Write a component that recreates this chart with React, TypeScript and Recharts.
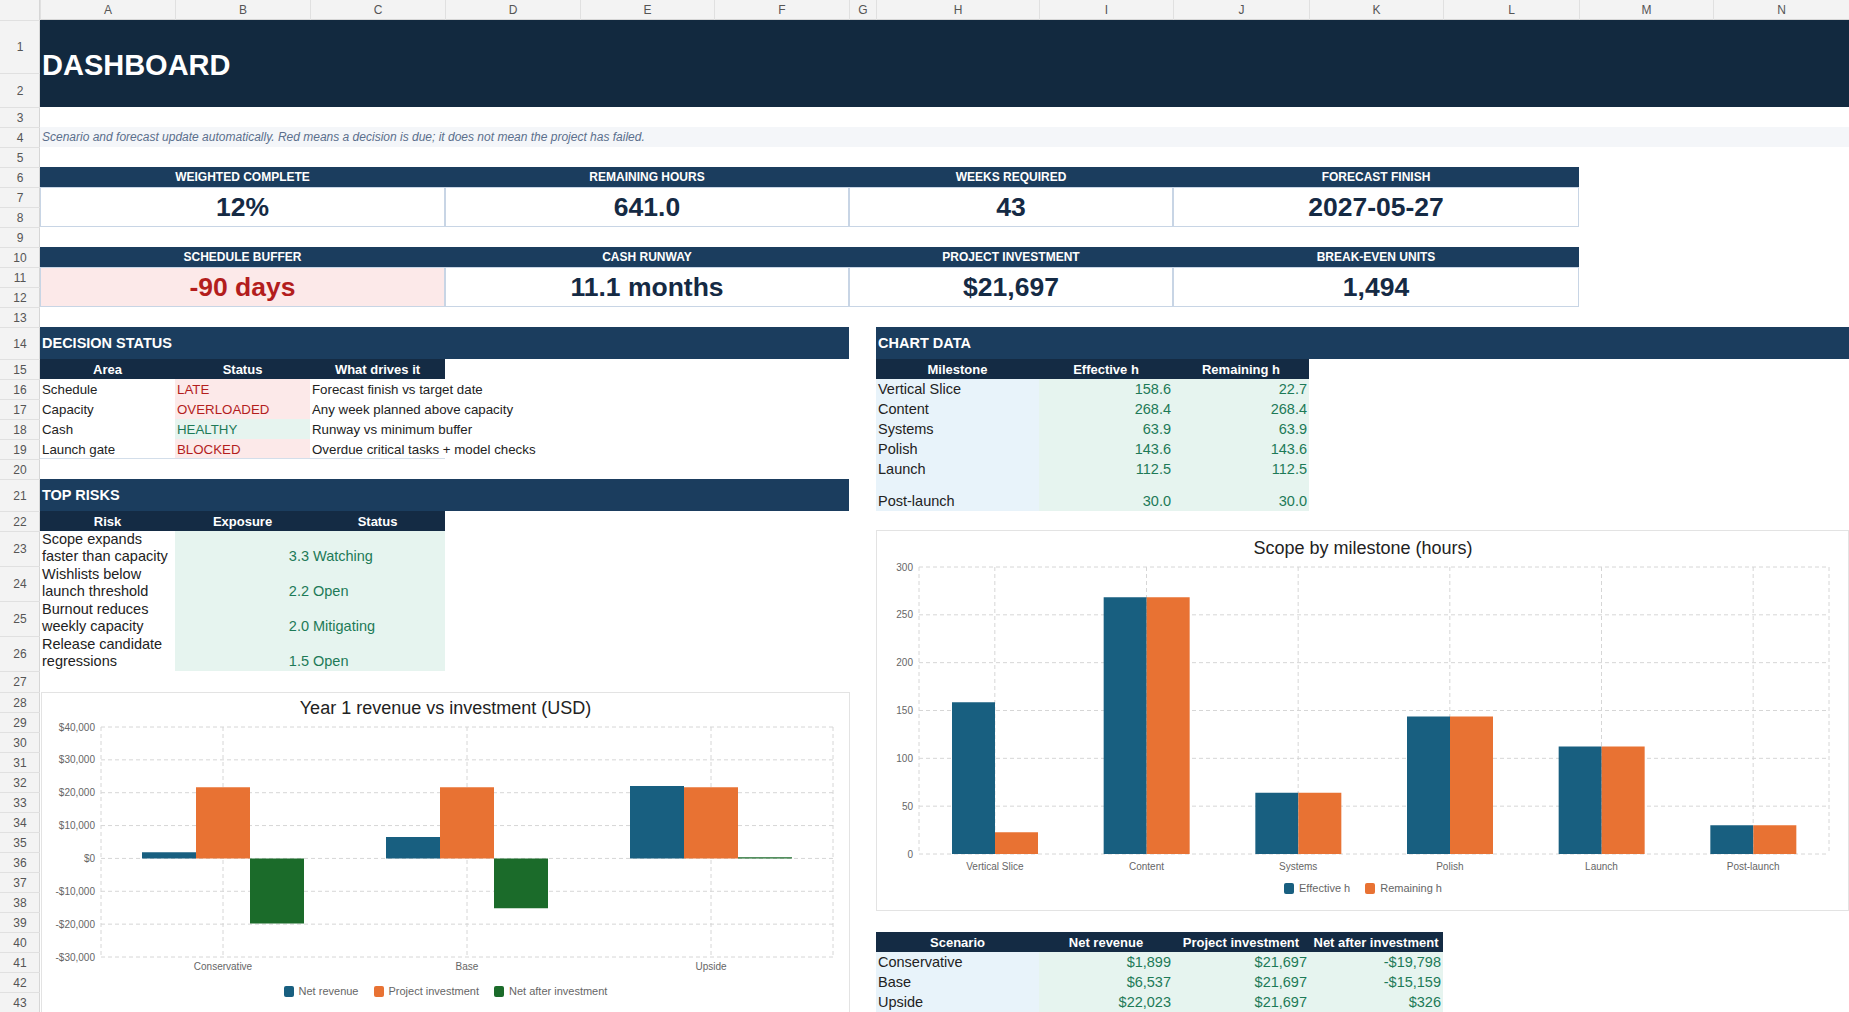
import React from "react";
import { Bar, BarChart, CartesianGrid, Legend, XAxis, YAxis } from "recharts";

const FONT = '"Liberation Sans", Arial, Helvetica, sans-serif';

// sheet geometry
const colLetters = ["A", "B", "C", "D", "E", "F", "G", "H", "I", "J", "K", "L", "M", "N"];
const colEdges = [40, 175, 310, 445, 580, 714, 849, 876, 1039, 1173, 1309, 1443, 1579, 1713, 1849];
const rowHeights = [53, 34, 20, 20, 20, 20, 20, 20, 20, 20, 20, 20, 20, 32, 20, 20, 20, 20, 20, 20, 32, 20, 35, 35, 35, 35, 21,
  20, 20, 20, 20, 20, 20, 20, 20, 20, 20, 20, 20, 20, 20, 20, 20];

// chart data
const milestones = ["Vertical Slice", "Content", "Systems", "Polish", "Launch", "Post-launch"];
const effectiveHours = [158.6, 268.4, 63.9, 143.6, 112.5, 30.0];
const remainingHours = [22.7, 268.4, 63.9, 143.6, 112.5, 30.0];
const hourTicks = [0, 50, 100, 150, 200, 250, 300];

const scenarios = ["Conservative", "Base", "Upside"];
const netRevenue = [1899, 6537, 22023];
const projectInvestment = [21697, 21697, 21697];
const netAfterInvestment = [-19798, -15159, 326];
const revenueTicks = [-30000, -20000, -10000, 0, 10000, 20000, 30000, 40000];

// sheet content
const kpiRow1 = [
  { label: "WEIGHTED COMPLETE", value: "12%", from: 0, to: 3 },
  { label: "REMAINING HOURS", value: "641.0", from: 3, to: 6 },
  { label: "WEEKS REQUIRED", value: "43", from: 6, to: 9 },
  { label: "FORECAST FINISH", value: "2027-05-27", from: 9, to: 12 },
];
const kpiRow2 = [
  { label: "SCHEDULE BUFFER", value: "-90 days", from: 0, to: 3, alert: true },
  { label: "CASH RUNWAY", value: "11.1 months", from: 3, to: 6 },
  { label: "PROJECT INVESTMENT", value: "$21,697", from: 6, to: 9 },
  { label: "BREAK-EVEN UNITS", value: "1,494", from: 9, to: 12 },
];
const decisionAreas = ["Schedule", "Capacity", "Cash", "Launch gate"];
const decisionStatus = ["LATE", "OVERLOADED", "HEALTHY", "BLOCKED"];
const decisionDrivers = ["Forecast finish vs target date", "Any week planned above capacity", "Runway vs minimum buffer", "Overdue critical tasks + model checks"];
const risks = ["Scope expands faster than capacity", "Wishlists below launch threshold", "Burnout reduces weekly capacity", "Release candidate regressions"];
const riskExposure = ["3.3", "2.2", "2.0", "1.5"];
const riskStatus = ["Watching", "Open", "Mitigating", "Open"];

const c = {
  banner: "#12293f",
  band: "#1b3d5e",
  thead: "#142b44",
  pink: "#fce9e9",
  red: "#b31d1d",
  mint: "#e6f4ef",
  green: "#1d7a57",
  ice: "#e8f3fa",
  boxLine: "#c8d5e5",
  blue: "#185f80",
  orange: "#e87233",
  forest: "#1b6b2a",
  ink: "#152a44",
};

const rowTop: number[] = [0, 20];
rowHeights.forEach((h, i) => (rowTop[i + 2] = rowTop[i + 1] + h));
const X = (col: number) => colEdges[col];
const Y = (row: number) => rowTop[row];

type CellProps = {
  c0: number; c1: number; r0: number; r1: number;
  bg?: string; color?: string; size?: number; bold?: boolean; italic?: boolean;
  align?: "left" | "center" | "right"; valign?: "top" | "center" | "bottom";
  border?: string; pad?: number; children?: React.ReactNode; style?: React.CSSProperties;
};

function Cell({ c0, c1, r0, r1, bg, color = "#222", size = 13.3, bold, italic, align = "left", valign = "center", border, pad = 2, children, style }: CellProps) {
  return (
    <div style={{
      position: "absolute", left: X(c0), top: Y(r0), width: X(c1) - X(c0), height: Y(r1) - Y(r0), boxSizing: "border-box",
      background: bg, color, fontSize: size, fontWeight: bold ? 700 : 400, fontStyle: italic ? "italic" : "normal",
      display: "flex", alignItems: valign === "top" ? "flex-start" : valign === "bottom" ? "flex-end" : "center",
      justifyContent: align === "left" ? "flex-start" : align === "right" ? "flex-end" : "center",
      padding: `0 ${pad}px`, border, whiteSpace: "nowrap", overflow: "visible", ...style,
    }}>
      {children}
    </div>
  );
}

function SwatchLegend(props: any) {
  const order: string[] = props.order || [];
  const items = [...(props.payload || [])].sort((a: any, b: any) => order.indexOf(a.value) - order.indexOf(b.value));
  return (
    <div style={{ display: "flex", justifyContent: "center", alignItems: "center", height: 20, gap: 15, fontSize: 11, color: "#666", fontFamily: FONT }}>
      {items.map((it: any) => (
        <span key={it.value} style={{ display: "inline-flex", alignItems: "center", gap: 5 }}>
          <span style={{ width: 10, height: 11, borderRadius: 2, background: it.color, display: "inline-block" }} />
          {it.value}
        </span>
      ))}
    </div>
  );
}

const money = (v: number) => (v < 0 ? "-" : "") + "$" + Math.abs(v).toLocaleString("en-US");

function SheetFrame() {
  return (
    <>
      <div style={{ position: "absolute", left: 0, top: 0, width: 1849, height: 20, background: "#f3f3f3", borderBottom: "1px solid #d6d6d6", boxSizing: "border-box" }} />
      <div style={{ position: "absolute", left: 0, top: 0, width: 40, height: 1012, background: "#f3f3f3", borderRight: "1px solid #d6d6d6", boxSizing: "border-box" }} />
      {colLetters.map((l, i) => (
        <div key={l} style={{ position: "absolute", left: X(i), top: 0, width: X(i + 1) - X(i), height: 20, lineHeight: "20px", textAlign: "center", fontSize: 12, color: "#555", borderLeft: "1px solid #e0e0e0", boxSizing: "border-box" }}>{l}</div>
      ))}
      {rowHeights.map((h, i) => (
        <div key={i} style={{ position: "absolute", left: 0, top: Y(i + 1), width: 40, height: h, display: "flex", alignItems: "center", justifyContent: "center", fontSize: 12, color: "#555", borderTop: "1px solid #e0e0e0", boxSizing: "border-box" }}>{i + 1}</div>
      ))}
    </>
  );
}

function Kpis({ items, row }: { items: any[]; row: number }) {
  return (
    <>
      <Cell c0={0} c1={12} r0={row} r1={row + 1} bg={c.band} />
      {items.map((k) => (
        <React.Fragment key={k.label}>
          <Cell c0={k.from} c1={k.to} r0={row} r1={row + 1} color="#fff" size={12} bold align="center">{k.label}</Cell>
          <Cell c0={k.from} c1={k.to} r0={row + 1} r1={row + 3} bg={k.alert ? c.pink : "#fff"} color={k.alert ? c.red : c.ink} size={26.5} bold align="center"
            border={`1px solid ${c.boxLine}`}>{k.value}</Cell>
        </React.Fragment>
      ))}
    </>
  );
}

const revenueOrder = ["Net revenue", "Project investment", "Net after investment"];
const scopeOrder = ["Effective h", "Remaining h"];

function RevenueChart() {
  const data = scenarios.map((s, i) => ({ scenario: s, net: netRevenue[i], invest: projectInvestment[i], after: netAfterInvestment[i] }));
  return (
    <div style={{ position: "absolute", left: 41, top: 692, width: 809, height: 340, border: "1px solid #e3e3e3", boxSizing: "border-box", background: "#fff" }}>
      <div style={{ position: "absolute", left: 0, top: 4, width: 807, height: 22, lineHeight: "22px", textAlign: "center", fontSize: 18, color: "#222" }}>Year 1 revenue vs investment (USD)</div>
      <BarChart width={807} height={308} data={data} margin={{ top: 34, right: 16, left: 0, bottom: 0 }} barGap={0} barSize={54} style={{ fontFamily: FONT }}>
        <CartesianGrid strokeDasharray="4 3" stroke="#d6d6d6" />
        <XAxis dataKey="scenario" height={24} tickMargin={0} tick={{ fontSize: 10, fill: "#666" }} axisLine={false} tickLine={false} />
        <YAxis width={59} domain={[-30000, 40000]} ticks={revenueTicks} tickMargin={0} tickFormatter={money} tick={{ fontSize: 10, fill: "#666" }} axisLine={false} tickLine={false} />
        <Legend content={(p: any) => <SwatchLegend {...p} order={revenueOrder} />} wrapperStyle={{ left: 0, width: 807 }} />
        <Bar dataKey="net" name="Net revenue" fill={c.blue} isAnimationActive={false} />
        <Bar dataKey="invest" name="Project investment" fill={c.orange} isAnimationActive={false} />
        <Bar dataKey="after" name="Net after investment" fill={c.forest} isAnimationActive={false} />
      </BarChart>
    </div>
  );
}

function ScopeChart() {
  const data = milestones.map((m, i) => ({ milestone: m, effective: effectiveHours[i], remaining: remainingHours[i] }));
  return (
    <div style={{ position: "absolute", left: 876, top: 530, width: 973, height: 381, border: "1px solid #e3e3e3", boxSizing: "border-box", background: "#fff" }}>
      <div style={{ position: "absolute", left: 0, top: 6, width: 972, height: 22, lineHeight: "22px", textAlign: "center", fontSize: 18, color: "#222" }}>Scope by milestone (hours)</div>
      <BarChart width={972} height={367} data={data} margin={{ top: 36, right: 20, left: 0, bottom: 0 }} barGap={0} barSize={43} style={{ fontFamily: FONT }}>
        <CartesianGrid strokeDasharray="4 3" stroke="#d6d6d6" />
        <XAxis dataKey="milestone" height={24} tickMargin={3} tick={{ fontSize: 10, fill: "#666" }} axisLine={false} tickLine={false} />
        <YAxis width={42} domain={[0, 300]} ticks={hourTicks} tickMargin={0} tick={{ fontSize: 10, fill: "#666" }} axisLine={false} tickLine={false} />
        <Legend content={(p: any) => <SwatchLegend {...p} order={scopeOrder} />} wrapperStyle={{ left: 0, width: 972 }} />
        <Bar dataKey="effective" name="Effective h" fill={c.blue} isAnimationActive={false} />
        <Bar dataKey="remaining" name="Remaining h" fill={c.orange} isAnimationActive={false} />
      </BarChart>
    </div>
  );
}

export default function App() {
  return (
    <div style={{ position: "absolute", left: 0, top: 0, width: 1849, height: 1012, overflow: "hidden", background: "#fff", fontFamily: FONT }}>
      <SheetFrame />

      {/* banner + note */}
      <Cell c0={0} c1={14} r0={1} r1={3} bg={c.banner} color="#fff" size={29} bold style={{ paddingTop: 4 }}>DASHBOARD</Cell>
      <Cell c0={0} c1={14} r0={4} r1={5} bg="#f4f6f9" color="#5b6f8c" size={12} italic>
        Scenario and forecast update automatically. Red means a decision is due; it does not mean the project has failed.
      </Cell>

      <Kpis items={kpiRow1} row={6} />
      <Kpis items={kpiRow2} row={10} />

      {/* decision status */}
      <Cell c0={0} c1={6} r0={14} r1={15} bg={c.band} color="#fff" size={14.5} bold>DECISION STATUS</Cell>
      {["Area", "Status", "What drives it"].map((h, i) => (
        <Cell key={h} c0={i} c1={i + 1} r0={15} r1={16} bg={c.thead} color="#fff" size={13} bold align="center">{h}</Cell>
      ))}
      {decisionAreas.map((a, i) => {
        const ok = decisionStatus[i] === "HEALTHY";
        return (
          <React.Fragment key={a}>
            <Cell c0={0} c1={1} r0={16 + i} r1={17 + i}>{a}</Cell>
            <Cell c0={1} c1={2} r0={16 + i} r1={17 + i} bg={ok ? c.mint : c.pink} color={ok ? c.green : c.red}>{decisionStatus[i]}</Cell>
            <Cell c0={2} c1={3} r0={16 + i} r1={17 + i}>{decisionDrivers[i]}</Cell>
          </React.Fragment>
        );
      })}
      <div style={{ position: "absolute", left: X(0), top: Y(20) - 1, width: X(3) - X(0), height: 1, background: "#d3deea" }} />

      {/* top risks */}
      <Cell c0={0} c1={6} r0={21} r1={22} bg={c.band} color="#fff" size={14.5} bold>TOP RISKS</Cell>
      {["Risk", "Exposure", "Status"].map((h, i) => (
        <Cell key={h} c0={i} c1={i + 1} r0={22} r1={23} bg={c.thead} color="#fff" size={13} bold align="center">{h}</Cell>
      ))}
      <Cell c0={1} c1={3} r0={23} r1={27} bg={c.mint} />
      {risks.map((r, i) => (
        <React.Fragment key={r}>
          <Cell c0={0} c1={1} r0={23 + i} r1={24 + i} size={14.5} valign="bottom" style={{ whiteSpace: "normal", lineHeight: "17px", paddingBottom: 1 }}>{r}</Cell>
          <Cell c0={1} c1={2} r0={23 + i} r1={24 + i} size={14.5} color={c.green} align="right" valign="bottom" pad={1} style={{ paddingBottom: 2 }}>{riskExposure[i]}</Cell>
          <Cell c0={2} c1={3} r0={23 + i} r1={24 + i} size={14.5} color={c.green} valign="bottom" pad={3} style={{ paddingBottom: 2 }}>{riskStatus[i]}</Cell>
        </React.Fragment>
      ))}

      {/* chart data */}
      <Cell c0={7} c1={14} r0={14} r1={15} bg={c.band} color="#fff" size={14.5} bold>CHART DATA</Cell>
      {["Milestone", "Effective h", "Remaining h"].map((h, i) => (
        <Cell key={h} c0={7 + i} c1={8 + i} r0={15} r1={16} bg={c.thead} color="#fff" size={13} bold align="center">{h}</Cell>
      ))}
      <Cell c0={7} c1={8} r0={16} r1={22} bg={c.ice} />
      <Cell c0={8} c1={10} r0={16} r1={22} bg={c.mint} />
      {milestones.map((m, i) => (
        <React.Fragment key={m}>
          <Cell c0={7} c1={8} r0={16 + i} r1={17 + i} size={14.5} valign="bottom" style={{ paddingBottom: 2 }}>{m}</Cell>
          <Cell c0={8} c1={9} r0={16 + i} r1={17 + i} size={14.5} color={c.green} align="right" valign="bottom" style={{ paddingBottom: 2 }}>{effectiveHours[i].toFixed(1)}</Cell>
          <Cell c0={9} c1={10} r0={16 + i} r1={17 + i} size={14.5} color={c.green} align="right" valign="bottom" style={{ paddingBottom: 2 }}>{remainingHours[i].toFixed(1)}</Cell>
        </React.Fragment>
      ))}

      <ScopeChart />
      <RevenueChart />

      {/* scenario table */}
      {["Scenario", "Net revenue", "Project investment", "Net after investment"].map((h, i) => (
        <Cell key={h} c0={7 + i} c1={8 + i} r0={40} r1={41} bg={c.thead} color="#fff" size={13} bold align="center" pad={0}>{h}</Cell>
      ))}
      <Cell c0={7} c1={8} r0={41} r1={44} bg={c.ice} />
      <Cell c0={8} c1={11} r0={41} r1={44} bg={c.mint} />
      {scenarios.map((s, i) => (
        <React.Fragment key={s}>
          <Cell c0={7} c1={8} r0={41 + i} r1={42 + i} size={14.5}>{s}</Cell>
          <Cell c0={8} c1={9} r0={41 + i} r1={42 + i} size={14.5} color={c.green} align="right">{money(netRevenue[i])}</Cell>
          <Cell c0={9} c1={10} r0={41 + i} r1={42 + i} size={14.5} color={c.green} align="right">{money(projectInvestment[i])}</Cell>
          <Cell c0={10} c1={11} r0={41 + i} r1={42 + i} size={14.5} color={c.green} align="right">{money(netAfterInvestment[i])}</Cell>
        </React.Fragment>
      ))}
    </div>
  );
}
